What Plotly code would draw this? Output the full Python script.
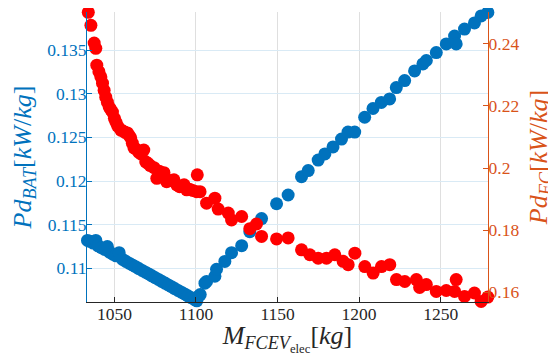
import plotly.graph_objects as go

# ---- data ----
m_bat = [1033.5, 1035, 1037, 1038.6, 1040, 1042, 1044, 1045.7, 1047, 1049, 1051, 1052.9,
         1055, 1057, 1059, 1061, 1063, 1065, 1067, 1069, 1071, 1073, 1075, 1077, 1079,
         1081, 1083, 1085, 1087, 1089, 1091, 1093, 1095, 1097, 1099, 1100.5, 1101.5,
         1102.6, 1105.5, 1106.5, 1111.6, 1112.6, 1117.7, 1121.8, 1128, 1133, 1140.2,
         1149.4, 1156.5, 1164.7, 1168.8, 1174.9, 1179, 1184, 1189.2, 1193.2, 1197.3,
         1203.4, 1208.5, 1213.6, 1218.7, 1222.8, 1227.9, 1234, 1239.1, 1241.2, 1247.3,
         1253.4, 1258.5, 1259.5, 1264.6, 1270.7, 1274.8, 1278.9]
pd_bat = [0.1132, 0.1131, 0.1129, 0.1132, 0.11258, 0.11237, 0.11216, 0.1125, 0.11185,
          0.11164, 0.11144, 0.1118, 0.11102, 0.11081, 0.1106, 0.1104, 0.11019, 0.10998,
          0.10977, 0.10956, 0.10936, 0.10915, 0.10894, 0.10873, 0.10852, 0.10832,
          0.10811, 0.1079, 0.10769, 0.10748, 0.10728, 0.10707, 0.10686, 0.10665,
          0.10644, 0.10628, 0.1068,
          0.1070, 0.1083, 0.1085, 0.1091, 0.1099, 0.1108, 0.1118, 0.1126, 0.1142, 0.1157,
          0.1174, 0.1184, 0.1205, 0.1212, 0.1224, 0.1231, 0.1239, 0.1248, 0.1256, 0.1256,
          0.1273, 0.1283, 0.1290, 0.1294, 0.1307, 0.1315, 0.1326, 0.1334, 0.1338, 0.1347,
          0.1357, 0.1366, 0.1357, 0.1374, 0.1381, 0.1389, 0.1393]

m_fc = [1034, 1035.6, 1037.6, 1038.6, 1039.2, 1040.5, 1041.7, 1042.7, 1043.7, 1044.7,
        1045.7, 1046.8, 1047.8, 1048.8, 1050, 1050.9, 1052, 1053.9, 1055, 1056.5, 1058,
        1059, 1060, 1061, 1062, 1063.5, 1065, 1066.5, 1068, 1069.2, 1070.5, 1072, 1074.3,
        1076, 1077.5, 1078.5, 1080.4, 1082, 1084, 1086.5, 1088.2, 1090, 1092.7, 1094.3,
        1096, 1098, 1100.4, 1100.8,
        1102.5, 1106.5, 1111.6, 1113.6, 1119.8, 1121.8, 1128, 1133, 1137.1, 1140.2,
        1149.4, 1156.5, 1164.7, 1169.8, 1174.9, 1180, 1185.1, 1190.2, 1193.3, 1197.4,
        1203.5, 1208.6, 1213.7, 1218.8, 1222.9, 1228, 1235.1, 1237.1, 1241.2, 1247.3,
        1253.4, 1258.5, 1259.5, 1264.6, 1270.7, 1274.8, 1278.9]
pd_fc = [0.2501, 0.2459, 0.2402, 0.2385, 0.2331, 0.2310, 0.2293, 0.2273, 0.2250, 0.2228,
         0.2212, 0.2196, 0.2188, 0.2180, 0.2160, 0.2148, 0.2135, 0.2122, 0.2120, 0.2115,
         0.2113, 0.2105, 0.2097, 0.2080, 0.2065, 0.2060, 0.2050, 0.2045, 0.2058, 0.2020,
         0.2015, 0.2008, 0.2001, 0.1967, 0.1990, 0.1980, 0.1985, 0.1956, 0.1960, 0.1962,
         0.1946, 0.1940, 0.1946, 0.1930, 0.1932, 0.1928, 0.1924, 0.1978,
         0.1924, 0.1887, 0.1903, 0.1868, 0.1855, 0.1833, 0.1844, 0.1805, 0.1820, 0.1780,
         0.1772, 0.1775, 0.1737, 0.1721, 0.1710, 0.1710, 0.1721, 0.1700, 0.1689, 0.1726,
         0.1683, 0.1662, 0.1683, 0.1689, 0.1641, 0.1635, 0.1641, 0.1616, 0.1625, 0.1603,
         0.1606, 0.1603, 0.1641, 0.1587, 0.1598, 0.1571, 0.1585]

x_ticks = [1050, 1100, 1150, 1200, 1250]
y_ticks_bat = [0.11, 0.115, 0.12, 0.125, 0.13, 0.135]
y_ticks_fc = [0.16, 0.18, 0.2, 0.22, 0.24]

BLUE = "#0072BD"
ORANGE = "#D95319"
FONT = "Liberation Serif"
TICK = 17.5
TITLE = 26

fig = go.Figure()
fig.add_trace(go.Scatter(x=m_bat, y=pd_bat, mode="markers", yaxis="y",
                         marker=dict(size=13, color=BLUE, line=dict(width=0)),
                         cliponaxis=False, showlegend=False))
fig.add_trace(go.Scatter(x=m_fc, y=pd_fc, mode="markers", yaxis="y2",
                         marker=dict(size=13, color="#FF0000", line=dict(width=0)),
                         cliponaxis=False, showlegend=False))

fig.update_layout(
    width=548, height=348,
    margin=dict(l=79, r=68, t=4, b=54),
    paper_bgcolor="white", plot_bgcolor="white",
    font=dict(family=FONT, size=TICK, color="#262626"),
    xaxis=dict(range=[1033.2, 1279.0], tickvals=x_ticks, ticktext=[str(v) for v in x_ticks],
               ticks="inside", ticklen=5, tickcolor="#262626", ticklabelstandoff=-4,
               showline=True, linecolor="#262626", linewidth=1, mirror=False,
               showgrid=True, gridcolor="#DFDFDF", gridwidth=1, zeroline=False,
               tickfont=dict(family=FONT, size=TICK, color="#262626"),
               title=dict(text="<i>M</i><sub><i>FCEV</i><sub>elec</sub></sub>[<i>kg</i>]",
                          font=dict(family=FONT, size=TITLE, color="#262626"), standoff=8)),
    yaxis=dict(range=[0.10615, 0.13935], tickvals=y_ticks_bat,
               ticktext=["0.11", "0.115", "0.12", "0.125", "0.13", "0.135"],
               ticks="inside", ticklen=5, tickcolor=BLUE, ticklabelstandoff=-4,
               showline=True, linecolor=BLUE, linewidth=1,
               showgrid=True, gridcolor="#D9EAF5", gridwidth=1, zeroline=False,
               tickfont=dict(family=FONT, size=TICK, color=BLUE),
               title=dict(text="<i>Pd</i><sub><i>BAT</i></sub>[<i>kW</i>/<i>kg</i>]",
                          font=dict(family=FONT, size=TITLE, color=BLUE), standoff=8)),
    yaxis2=dict(range=[0.1569, 0.2502], tickvals=y_ticks_fc,
                ticktext=["0.16", "0.18", "0.2", "0.22", "0.24"],
                overlaying="y", side="right",
                ticks="inside", ticklen=5, tickcolor=ORANGE, ticklabelstandoff=-4,
                showline=True, linecolor=ORANGE, linewidth=1,
                showgrid=False, zeroline=False,
                tickfont=dict(family=FONT, size=TICK, color=ORANGE),
                title=dict(text="<i>Pd</i><sub><i>FC</i></sub>[<i>kW</i>/<i>kg</i>]",
                           font=dict(family=FONT, size=TITLE, color=ORANGE), standoff=10)),
)

fig.write_html("out.html")
